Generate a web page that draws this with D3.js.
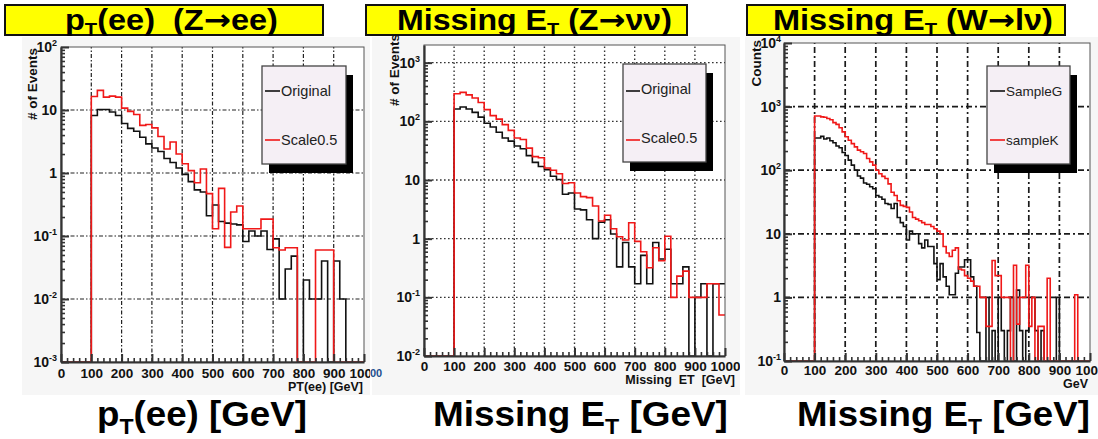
<!DOCTYPE html>
<html><head><meta charset="utf-8">
<script src="https://cdn.jsdelivr.net/npm/d3@7"></script>
<style>
body{margin:0;background:#fff}
svg{display:block}
text{font-family:"Liberation Sans",Arial,Helvetica,sans-serif;white-space:pre}
</style>
</head><body>
<svg id="chart" width="1098" height="439"></svg>
<script>
// ---- data -------------------------------------------------------------
const xTickValues = [0, 100, 200, 300, 400, 500, 600, 700, 800, 900, 1000];
const xTickLabels = ["0", "100", "200", "300", "400", "500", "600", "700", "800", "900", "1000"];

// pT(ee), Z->ee, 20 GeV bins from 0 to 1000
const zeeBinWidth = 20;
const zeeOriginal = [0,0,0,0,0, 8.2,10.2,10.2,9.3,8.2, 6.1,5.1,4.6,3.7,2.9, 2.5,2.2,1.7,1.47,1.2,
  0.95,0.73,0.54,0.50,0.21, 0.31,0.17,0.16,0.155,0.15, 0.082,0.12,0.10,0.12,0.061,
  0.09,0.01,0.030,0.048,0, 0.02,0.01,0.01,0.04,0, 0.04,0.01,0,0,0];
const zeeScaled = [0,0,0,0,0, 16.4,20.5,16.0,16.6,16.0, 10.7,9.5,8.5,5.7,5.9, 5.2,3.8,2.4,3.1,2.0,
  1.4,1.09,0.70,1.16,0.47, 0.13,0.57,0.066,0.24,0.30, 0.13,0.13,0.13,0.185,0.185,
  0.065,0.06,0.065,0.065,0, 0,0,0.06,0.06,0.06, 0,0,0,0,0];

// Missing ET, Z->nunu, 20 GeV bins
const znnBinWidth = 20;
const znnOriginal = [0,0,0,0,0, 162,175,162,142,118, 93,80,65,52,46, 38,34,26,20,17,
  15,11.6,10.2,5.7,6.0, 3.2,3.1,2.1,1.0,1.9, 2.1,1.2,0.33,0.86,0.33,
  0.17,0.52,0.17,0.86,0.45, 0.66,0.17,0.17,0.33,0, 0.1,0.17,0,0.17,0.17];
const znnScaled = [0,0,0,0,0, 295,311,282,250,210, 158,125,109,88,70, 52,49,35,25,24,
  16,14.7,12.8,8.7,9.0, 6.0,5.2,5.0,3.6,2.0, 2.5,1.48,1.08,0.95,1.87,
  0.9,0.6,0.32,0.7,0.42, 1.1,0.1,0.23,0.28,0.1, 0.1,0.1,0.17,0.17,0.05];

// Missing ET, W->l nu, 10 GeV bins
const wlnBinWidth = 10;
const wlnSampleG = [0,0,0,0,0,0,0,0,0,0,
  320,320,340,310,320,290,270,240,225,190,
  170,144,120,100,81,75,63,60,55,51,
  40,38,35,30,29,25,30,18,15,13,
  8,11,10,10,7,6,8,6.3,6.3,3.4,
  1.9,3.4,2.1,1.5,1.1,1.1,2.4,3.0,3.0,3.9,
  3.9,2.1,1.5,0.28,0,0,1.0,0,0.3,0,
  1.0,0.3,0,0.3,1.0,0,1.3,0.3,0,0.3,
  1.0,1.0,0.3,0,0.3,0,0,0,0,1.0,
  0,0,0,0,0,0,0,0,0,0];
const wlnSampleK = [0,0,0,0,0,0,0,0,0,0,
  710,710,690,680,650,620,560,525,465,400,
  335,295,262,233,207,195,183,153,135,120,
  100,88,80,74,61,45,40,33,28,27,
  26,22,18,17,16,15,14,14,13,12,
  11,10,6.3,5.0,4.4,5.5,6.0,2.8,2.7,2.2,
  2.0,1.8,1.5,1.5,1.0,1.0,0.35,0.35,3.8,2.2,
  2.2,1.0,1.0,1.0,0,3.2,0.38,1.0,1.0,3.2,
  0.35,1.0,0,0.35,0.35,0,2.0,0,0,0,
  0,0,0,0,0,1.1,0,0,0,0];

const legendZee = ["Original", "Scale0.5"];
const legendZnn = ["Original", "Scale0.5"];
const legendWln = ["SampleG", "sampleK"];

// ---- drawing ----------------------------------------------------------
const svg = d3.select("#chart");
const RED = "#f01818";
const FONT = "'Liberation Sans',Arial,Helvetica,sans-serif";

const panels = [
  {
    id: "zee", canvas: [22, 37, 348, 358], clipRight: 370,
    frame: {x0: 61, x1: 364, y0: 47, y1: 362}, yDomain: [1e-3, 1e2],
    grid: {dash: "4,2,1.5,2", width: 1.2, color: "#222"},
    binWidth: zeeBinWidth, series: [zeeOriginal, zeeScaled], legend: legendZee,
    xLabelY: 378, yLabelX: 57, yTitle: "# of Events", yTitleX: 37, yTitleTop: 48,
    xTitle: "PT(ee) [GeV]", xTitleY: 391, xTitleX: 363,
    legendBox: [262, 66, 84, 98], legendStyle: "long", legendFont: 14.5
  },
  {
    id: "znn", canvas: [372, 37, 368, 358], clipRight: 740,
    frame: {x0: 424, x1: 725, y0: 45, y1: 356}, yDomain: [1e-2, 2e3],
    grid: {dash: "1.6,2.4", width: 1.4, color: "#333"},
    binWidth: znnBinWidth, series: [znnOriginal, znnScaled], legend: legendZnn,
    xLabelY: 371, yLabelX: 420, yTitle: "# of Events", yTitleX: 399, yTitleTop: 34,
    xTitle: "Missing  ET  [GeV]", xTitleY: 384, xTitleX: 735,
    legendBox: [623, 64, 83, 98], legendStyle: "short", legendFont: 14.5
  },
  {
    id: "wln", canvas: [745, 37, 353, 358], clipRight: 1098,
    frame: {x0: 784, x1: 1090, y0: 43, y1: 361}, yDomain: [1e-1, 1e4],
    grid: {dash: "6,3,2,3", width: 1.7, color: "#1a1a1a"},
    binWidth: wlnBinWidth, series: [wlnSampleG, wlnSampleK], legend: legendWln,
    xLabelY: 375, yLabelX: 781, yTitle: "Counts", yTitleX: 761, yTitleTop: 40,
    xTitle: "GeV", xTitleY: 388, xTitleX: 1088,
    legendBox: [987, 66, 83, 98], legendStyle: "long", legendFont: 13.5
  }
];

function superLabel(sel, v) {
  const e = Math.round(Math.log10(v));
  if (e === 0) { sel.text("1"); return; }
  if (e === 1) { sel.text("10"); return; }
  sel.append("tspan").text("10");
  sel.append("tspan").attr("dy", -6).attr("font-size", 9).text(e);
}

function drawPanel(p) {
  const panelClip = "panelclip-" + p.id;
  svg.append("clipPath").attr("id", panelClip).append("rect")
    .attr("x", p.canvas[0] - 30).attr("y", 0).attr("width", p.clipRight - p.canvas[0] + 30).attr("height", 439);
  const g = svg.append("g").attr("id", "panel-" + p.id).attr("clip-path", `url(#${panelClip})`);
  const f = p.frame;
  g.append("rect").attr("x", p.canvas[0]).attr("y", p.canvas[1])
    .attr("width", p.canvas[2]).attr("height", p.canvas[3]).attr("fill", "#f6f6f6");

  const x = d3.scaleLinear().domain([0, 1000]).range([f.x0, f.x1]);
  const y = d3.scaleLog().domain(p.yDomain).range([f.y1, f.y0]);
  const yMin = p.yDomain[0];

  g.append("rect").attr("x", f.x0).attr("y", f.y0)
    .attr("width", f.x1 - f.x0).attr("height", f.y1 - f.y0).attr("fill", "#fff");

  // decades and the 2..9 minor positions
  const eLo = Math.round(Math.log10(p.yDomain[0]));
  const eHi = Math.floor(Math.log10(p.yDomain[1]) + 1e-9);
  const decades = d3.range(eLo, eHi + 1).map(e => Math.pow(10, e));
  const minors = [];
  for (let e = eLo; e <= eHi; e++) {
    for (let k = 2; k <= 9; k++) {
      const v = k * Math.pow(10, e);
      if (v < p.yDomain[1]) minors.push(v);
    }
  }

  // grid
  const grid = g.append("g").attr("stroke", p.grid.color)
    .attr("stroke-width", p.grid.width).attr("stroke-dasharray", p.grid.dash);
  grid.selectAll("line.gx").data(xTickValues.filter(v => v > 0 && v < 1000)).join("line")
    .attr("class", "gx").attr("x1", d => x(d)).attr("x2", d => x(d))
    .attr("y1", f.y1).attr("y2", f.y0);
  grid.selectAll("line.gy").data(decades.filter(v => y(v) > f.y0 + 1 && y(v) < f.y1 - 1)).join("line")
    .attr("class", "gy").attr("y1", d => y(d)).attr("y2", d => y(d))
    .attr("x1", f.x0).attr("x2", f.x1);

  // histograms (empty bins sit on the lower edge of the frame)
  const clipId = "clip-" + p.id;
  svg.append("clipPath").attr("id", clipId).append("rect")
    .attr("x", f.x0).attr("y", f.y0).attr("width", f.x1 - f.x0).attr("height", f.y1 - f.y0 + 1);
  const line = d3.line()
    .x(d => x(d[0]))
    .y(d => y(Math.max(d[1], yMin)))
    .curve(d3.curveStepAfter);
  const colors = ["#111", RED];
  p.series.forEach((vals, i) => {
    const pts = vals.map((v, k) => [k * p.binWidth, v]);
    pts.push([vals.length * p.binWidth, vals[vals.length - 1]]);
    g.append("g").attr("clip-path", `url(#${clipId})`).append("path")
      .attr("d", line(pts)).attr("fill", "none")
      .attr("stroke", colors[i]).attr("stroke-width", 1.6);
  });

  // frame
  g.append("rect").attr("x", f.x0).attr("y", f.y0)
    .attr("width", f.x1 - f.x0).attr("height", f.y1 - f.y0)
    .attr("fill", "none").attr("stroke", "#555").attr("stroke-width", 1);

  // bottom axis: majors and minors pointing into the frame
  const xMinor = d3.range(0, 1001, 20).filter(v => v % 100 !== 0);
  const axB = g.append("g").attr("transform", `translate(0,${f.y1})`)
    .call(d3.axisBottom(x).tickValues(xTickValues).tickSizeInner(-8).tickSizeOuter(0)
      .tickFormat((d, i) => xTickLabels[i]));
  axB.select(".domain").attr("stroke", "#333").attr("stroke-width", 2.2);
  axB.selectAll(".tick line").attr("stroke", "#333").attr("stroke-width", 2);
  axB.selectAll(".tick text").attr("y", p.xLabelY - f.y1).attr("dy", 0)
    .attr("font-family", FONT).attr("font-weight", "bold").attr("font-size", 13.5).attr("fill", "#111");
  const axBm = g.append("g").attr("transform", `translate(0,${f.y1})`)
    .call(d3.axisBottom(x).tickValues(xMinor).tickSizeInner(-4).tickSizeOuter(0).tickFormat(""));
  axBm.select(".domain").remove();
  axBm.selectAll(".tick line").attr("stroke", "#333").attr("stroke-width", 1.6);

  // left axis
  const axL = g.append("g").attr("transform", `translate(${f.x0},0)`)
    .call(d3.axisLeft(y).tickValues(decades).tickSizeInner(-8).tickSizeOuter(0).tickFormat(""));
  axL.select(".domain").attr("stroke", "#333").attr("stroke-width", 2.2);
  axL.selectAll(".tick line").attr("stroke", "#333").attr("stroke-width", 2);
  const axLm = g.append("g").attr("transform", `translate(${f.x0},0)`)
    .call(d3.axisLeft(y).tickValues(minors).tickSizeInner(-4).tickSizeOuter(0).tickFormat(""));
  axLm.select(".domain").remove();
  axLm.selectAll(".tick line").attr("stroke", "#333").attr("stroke-width", 1.6);

  g.selectAll("text.ylab").data(decades).join("text").attr("class", "ylab")
    .attr("x", p.yLabelX).attr("y", d => y(d) + 5)
    .attr("text-anchor", "end").attr("font-weight", "bold").attr("font-size", 14).attr("fill", "#111")
    .each(function (d) { superLabel(d3.select(this), d); });

  // axis titles
  g.append("text").attr("transform", `translate(${p.yTitleX},${p.yTitleTop}) rotate(-90)`)
    .attr("text-anchor", "end").attr("font-weight", "bold").attr("font-size", 13.5).attr("fill", "#111")
    .text(p.yTitle);
  g.append("text").attr("x", p.xTitleX).attr("y", p.xTitleY)
    .attr("text-anchor", "end").attr("font-weight", "bold").attr("font-size", 12.5).attr("fill", "#111")
    .text(p.xTitle);

  // legend with drop shadow
  const [lx, ly, lw, lh] = p.legendBox;
  g.append("rect").attr("x", lx + 7).attr("y", ly + 9).attr("width", lw).attr("height", lh).attr("fill", "#000");
  g.append("rect").attr("x", lx).attr("y", ly).attr("width", lw).attr("height", lh)
    .attr("fill", "#f5eff5").attr("stroke", "#444").attr("stroke-width", 1.3);
  p.legend.forEach((name, i) => {
    const cy = ly + 25 + i * 49;
    const lineY = p.legendStyle === "short" ? cy + 2 : cy;
    const l0 = lx + 3, l1 = p.legendStyle === "short" ? lx + 17 : lx + 18;
    g.append("line").attr("x1", l0).attr("x2", l1).attr("y1", lineY).attr("y2", lineY)
      .attr("stroke", colors[i]).attr("stroke-width", 1.6);
    g.append("text").attr("x", l1 + 1).attr("y", cy + 5)
      .attr("font-size", p.legendFont).attr("fill", "#222").text(name);
  });
}

panels.forEach(drawPanel);

// stray axis label fragment at the left edge of the middle canvas
svg.append("text").attr("x", 370).attr("y", 377).attr("font-weight", "bold")
  .attr("font-size", 11).attr("fill", "#1f4f8f").text("00");

// Bold text with a lowered "T" subscript, stretched to a given width.
function richText(x, y, width, size, subSize, drop, parts) {
  const g = svg.append("g");
  const tx = g.append("text").attr("x", 0).attr("y", 0)
    .attr("font-weight", "bold").attr("font-size", size).attr("fill", "#000");
  let shift = 0;
  parts.forEach(([s, kind]) => {
    const sp = tx.append("tspan").text(s);
    if (kind === "sub") { sp.attr("font-size", subSize).attr("dy", drop - shift); shift = drop; }
    else { sp.attr("dy", -shift); shift = 0; }
    if (kind === "arrow") sp.attr("font-family", "'DejaVu Sans',sans-serif");
  });
  const w = tx.node().getComputedTextLength();
  g.attr("transform", `translate(${x},${y}) scale(${width / w},1)`);
}

// ---- yellow title boxes ----------------------------------------------
const titles = [
  {box: [5, 5, 318, 30], x: 65, w: 213, parts: [["p"], ["T", "sub"], ["(ee)  (Z"], ["→", "arrow"], ["ee)"]]},
  {box: [366, 5, 321, 30], x: 397, w: 275, parts: [["Missing E"], ["T", "sub"], [" (Z"], ["→", "arrow"], ["νν)"]]},
  {box: [747, 5, 318, 30], x: 773, w: 280, parts: [["Missing E"], ["T", "sub"], [" (W"], ["→", "arrow"], ["lν)"]]}
];
titles.forEach(t => {
  svg.append("rect").attr("x", t.box[0]).attr("y", t.box[1]).attr("width", t.box[2]).attr("height", t.box[3])
    .attr("fill", "#ffff00").attr("stroke", "#111").attr("stroke-width", 2);
  richText(t.x, 30, t.w, 29, 18, 6, t.parts);
});

// ---- large axis captions under the panels ------------------------------
const captions = [
  {x: 97, w: 210, parts: [["p"], ["T", "sub"], ["(ee) [GeV]"]]},
  {x: 433, w: 295, parts: [["Missing E"], ["T", "sub"], [" [GeV]"]]},
  {x: 797, w: 293, parts: [["Missing E"], ["T", "sub"], [" [GeV]"]]}
];
captions.forEach(c => richText(c.x, 426, c.w, 35, 22, 8, c.parts));
</script>
</body></html>
